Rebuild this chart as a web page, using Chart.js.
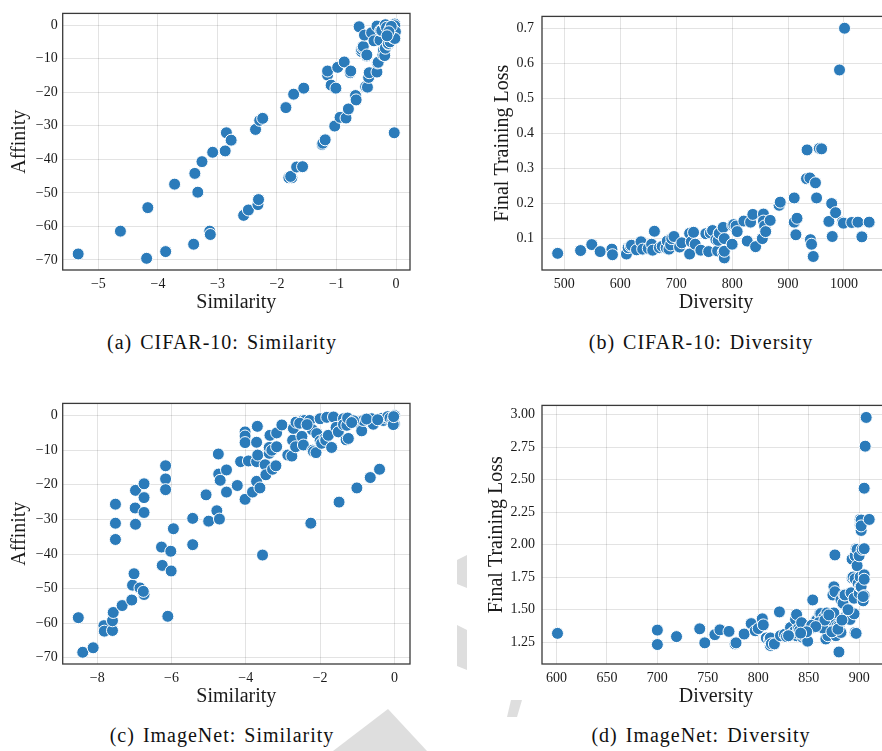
<!DOCTYPE html>
<html><head><meta charset="utf-8">
<script src="https://cdn.jsdelivr.net/npm/chart.js@4"></script>
<style>
html,body{margin:0;padding:0;background:#fff;overflow:hidden;width:882px;height:751px;position:relative}
canvas{position:absolute;z-index:1}
#wm{position:absolute;left:0;top:0;z-index:0}
.cap{position:absolute;z-index:2;font-family:'Liberation Serif','Times New Roman',Times,'DejaVu Serif',serif;font-size:20px;letter-spacing:1px;word-spacing:2px;color:#111;white-space:nowrap;transform:translateX(-50%);line-height:24px}
</style></head><body>
<svg id="wm" width="882" height="751" aria-hidden="true">
  <g fill="#dedede">
    <polygon points="457,560 467,555 467,588 457,584"/>
    <polygon points="457,625 467,630 467,670 457,666"/>
    <polygon points="333,751 388,709 427,751"/>
    <polygon points="511,700 522,700 517,717 507,717"/>
  </g>
</svg>
<canvas id="ca" width="420" height="320" style="left:0;top:0"></canvas>
<canvas id="cb" width="419" height="320" style="left:478px;top:0"></canvas>
<canvas id="cc" width="420" height="324" style="left:0;top:390px"></canvas>
<canvas id="cd" width="419" height="324" style="left:478px;top:390px"></canvas>
<div class="cap" style="left:222px;top:330px">(a) CIFAR-10: Similarity</div>
<div class="cap" style="left:701px;top:330px">(b) CIFAR-10: Diversity</div>
<div class="cap" style="left:222px;top:723px">(c) ImageNet: Similarity</div>
<div class="cap" style="left:701px;top:723px">(d) ImageNet: Diversity</div>
<script>
// ---- (a) CIFAR-10: Similarity vs Affinity
const simA = [-5.34,-4.63,-4.17,-4.19,-3.87,-3.72,-3.40,-3.38,-3.33,-3.26,-3.13,-3.12,-3.08,-2.87,-2.85,-2.77,-2.56,-2.48,-2.36,-2.32,-2.31,-2.29,-2.24,-1.85,-1.80,-1.75,-1.77,-1.72,-1.67,-1.57,-1.55,-1.24,-1.23,-1.19,-1.15,-1.15,-1.09,-1.03,-1.01,-0.98,-0.94,-0.87,-0.84,-0.80,-0.77,-0.76,-0.68,-0.67,-0.62,-0.58,-0.58,-0.56,-0.55,-0.53,-0.51,-0.49,-0.49,-0.48,-0.46,-0.45,-0.41,-0.37,-0.32,-0.32,-0.31,-0.30,-0.27,-0.26,-0.24,-0.22,-0.21,-0.19,-0.18,-0.18,-0.16,-0.13,-0.13,-0.10,-0.10,-0.07,-0.06,-0.05,-0.03,-0.02,-0.03,-0.02,-0.04,-0.01,-0.05,-0.08,-0.02,-0.12,-0.15];
const affA = [-68.2,-61.4,-54.4,-69.5,-67.5,-47.4,-65.3,-44.2,-49.8,-40.7,-61.4,-62.4,-37.9,-37.5,-32.1,-34.3,-56.7,-55.1,-31.1,-53.5,-52.0,-28.4,-27.8,-24.6,-45.5,-45.5,-45.1,-20.6,-42.3,-42.2,-18.8,-35.6,-35.2,-34.2,-14.9,-13.7,-17.9,-30.1,-18.8,-12.6,-27.5,-11.0,-27.7,-25.0,-14.2,-13.7,-21.0,-22.3,-0.5,-7.9,-7.2,-6.7,-6.4,-3.0,-18.4,-9.2,-8.9,-18.5,-15.6,-14.2,-2.3,-4.7,-0.3,-14.0,-11.3,-11.1,-4.5,-1.6,-1.6,-8.9,-7.4,-9.1,-6.9,0.1,-0.7,-5.7,-5.5,-5.0,-1.2,-2.6,-1.2,-2.6,-32.1,0.3,-3.1,-0.2,-1.5,-2.0,-3.8,-0.4,-4.0,-2.0,-3.2];
const ticksAx = [-5,-4,-3,-2,-1,0];
const ticksAy = [0,-10,-20,-30,-40,-50,-60,-70];

// ---- (b) CIFAR-10: Diversity vs Final Training Loss
const divB = [488,529,549,564,585,586,611,614,618,620,629,637,640,650,656,658,661,670,675,682,684,687,690,692,696,706,710,724,724,727,731,734,744,753,758,761,765,771,774,775,777,777,784,784,786,786,786,800,801,803,807,809,821,827,833,837,842,854,856,856,858,860,868,884,886,911,911,914,916,933,934,939,940,942,945,949,951,956,960,973,978,979,985,992,997,999,1001,1014,1025,1032,1045];
const lossB = [0.058,0.066,0.083,0.063,0.070,0.054,0.056,0.074,0.079,0.081,0.068,0.091,0.070,0.072,0.084,0.067,0.121,0.074,0.078,0.074,0.093,0.070,0.082,0.100,0.106,0.076,0.088,0.056,0.115,0.091,0.118,0.084,0.067,0.114,0.063,0.116,0.123,0.097,0.065,0.095,0.116,0.115,0.132,0.061,0.045,0.100,0.064,0.084,0.138,0.140,0.136,0.120,0.150,0.093,0.147,0.169,0.077,0.100,0.170,0.150,0.136,0.120,0.152,0.195,0.204,0.216,0.147,0.111,0.158,0.271,0.353,0.273,0.097,0.084,0.049,0.259,0.216,0.357,0.356,0.149,0.200,0.106,0.174,0.581,0.147,0.144,0.700,0.146,0.147,0.105,0.147];
const ticksBx = [500,600,700,800,900,1000];
const ticksBy = [0.1,0.2,0.3,0.4,0.5,0.6,0.7];

// ---- (c) ImageNet: Similarity vs Affinity
const simC = [-8.51,-8.39,-8.11,-7.82,-7.81,-7.59,-7.59,-7.57,-7.51,-7.51,-7.51,-7.33,-7.07,-7.05,-7.01,-6.98,-6.97,-6.97,-6.85,-6.74,-6.74,-6.74,-6.74,-6.76,-6.27,-6.25,-6.16,-6.16,-6.16,-6.10,-6.02,-6.01,-5.95,-5.43,-5.43,-5.07,-5.00,-4.78,-4.74,-4.73,-4.71,-4.69,-4.52,-4.52,-4.23,-4.14,-4.02,-4.02,-4.02,-4.02,-3.93,-3.82,-3.71,-3.71,-3.69,-3.68,-3.71,-3.62,-3.55,-3.48,-3.46,-3.37,-3.37,-3.35,-3.30,-3.28,-3.19,-3.17,-3.17,-3.03,-2.87,-2.76,-2.74,-2.72,-2.66,-2.65,-2.49,-2.45,-2.45,-2.41,-2.28,-2.25,-2.21,-2.20,-2.18,-2.11,-2.09,-2.00,-2.00,-1.96,-1.87,-1.85,-1.82,-1.78,-1.69,-1.64,-1.57,-1.51,-1.49,-1.37,-1.37,-1.30,-1.28,-1.26,-1.24,-1.01,-0.92,-0.88,-0.84,-0.65,-0.61,-0.57,-0.40,-0.34,-0.30,-0.21,-0.18,-0.12,0.00,0.00,-0.04,-0.03,-0.02,-1.10,-1.15,-0.75,-0.45,-2.55,-2.35];
const affC = [-58.4,-68.4,-67.1,-60.7,-62.3,-62.1,-59.3,-56.9,-25.6,-31.1,-35.8,-54.9,-53.3,-49.0,-45.7,-26.7,-21.6,-31.4,-49.8,-19.7,-23.7,-28.0,-51.7,-50.8,-38.0,-43.3,-14.5,-18.3,-21.4,-58.0,-39.2,-44.9,-32.7,-29.7,-37.3,-22.9,-30.5,-27.5,-11.1,-16.9,-29.9,-18.7,-15.7,-22.1,-20.2,-13.3,-4.7,-5.9,-7.8,-24.2,-13.1,-22.1,-13.3,-7.7,-3.1,-11.4,-19.0,-20.9,-40.3,-14.2,-17.1,-10.9,-9.2,-5.7,-10.0,-15.5,-14.5,-9.0,-5.0,-2.7,-11.4,-11.7,-7.1,-3.7,-9.0,-1.9,-6.0,-8.5,-1.3,-1.4,-1.4,-31.1,-4.1,-10.0,-10.4,-10.7,-5.2,-0.9,-7.3,-8.0,-6.6,-7.1,-0.5,-5.7,-9.2,-0.4,-3.4,-4.7,-25.0,-0.9,-2.6,-7.0,-2.8,-0.7,-6.6,-20.9,-2.4,-4.4,-1.4,-17.9,-0.9,-2.5,-15.5,-0.8,-1.4,-0.7,-0.3,-0.7,0.0,-2.4,-1.4,-2.6,-0.3,-1.5,-2.0,-1.0,-1.2,-2.2,-2.6];
const ticksCx = [-8,-6,-4,-2,0];
const ticksCy = [0,-10,-20,-30,-40,-50,-60,-70];

// ---- (d) ImageNet: Diversity vs Final Training Loss
const divD = [601,700,700,719,742,747,757,762,771,777,778,786,793,797,800,804,805,808,811,812,812,813,816,821,822,826,828,832,834,836,837,838,838,839,840,841,843,844,845,846,849,852,854,855,857,858,861,862,863,865,867,868,869,869,871,872,874,875,876,875,876,877,878,878,880,880,882,882,884,885,886,887,888,890,891,892,893,893,894,895,895,896,896,896,897,897,898,898,899,900,900,901,901,901,901,902,902,902,902,903,904,905,905,905,905,905,904,906,907,910,860,864,866,870,873,879,883,889,853,857,848,830,842];
const lossD = [1.318,1.343,1.232,1.293,1.353,1.245,1.308,1.345,1.333,1.237,1.245,1.313,1.393,1.338,1.355,1.430,1.383,1.283,1.276,1.283,1.225,1.238,1.237,1.483,1.300,1.310,1.293,1.363,1.320,1.333,1.425,1.463,1.300,1.320,1.358,1.340,1.400,1.288,1.300,1.313,1.258,1.368,1.575,1.363,1.413,1.420,1.468,1.470,1.388,1.440,1.275,1.475,1.388,1.300,1.388,1.420,1.613,1.676,1.921,1.475,1.638,1.300,1.338,1.375,1.175,1.375,1.325,1.576,1.550,1.614,1.613,1.451,1.438,1.488,1.425,1.630,1.744,1.889,1.751,1.468,1.588,1.914,1.325,1.738,1.969,1.318,1.838,1.964,1.701,1.626,1.914,1.751,1.676,2.151,2.194,2.189,2.109,2.144,1.676,1.964,1.568,1.608,1.969,2.434,1.768,1.734,1.601,2.757,2.978,2.194,1.40,1.36,1.42,1.46,1.33,1.35,1.42,1.50,1.38,1.37,1.33,1.30,1.32];
const ticksDx = [600,650,700,750,800,850,900];
const ticksDy = [1.25,1.5,1.75,2.0,2.25,2.5,2.75,3.0];

const FONT = "'Liberation Serif', 'Times New Roman', Times, 'DejaVu Serif', serif";
const TXT = '#1a1a1a';
const GRID = 'rgba(0,0,0,0.11)';
const DOT = '#2b7bba';

function fmt(v, d) {
  const s = Math.abs(v).toFixed(d);
  return (v < 0 ? '\u2212' : '') + s;
}

const frame = {
  id: 'frame',
  beforeDraw(c) {
    const a = c.chartArea, g = c.ctx;
    g.save();
    g.fillStyle = '#ffffff';
    g.fillRect(a.left, a.top, a.right - a.left, a.bottom - a.top);
    g.restore();
  },
  afterDatasetsDraw(c) {
    const a = c.chartArea, g = c.ctx;
    g.save();
    g.strokeStyle = '#3a3a3a';
    g.lineWidth = 1.3;
    g.strokeRect(a.left, a.top, a.right - a.left, a.bottom - a.top);
    g.restore();
  }
};

function panel(id, xs, ys, o) {
  return new Chart(document.getElementById(id), {
    type: 'scatter',
    data: { datasets: [{
      data: xs.map((x, i) => ({ x: x, y: ys[i] })),
      backgroundColor: DOT, borderColor: '#ffffff', borderWidth: 1,
      pointRadius: 6, pointHoverRadius: 6
    }]},
    options: {
      responsive: false, animation: false, devicePixelRatio: 1, events: [],
      layout: { padding: { top: o.padTop, right: o.padRight, left: 0, bottom: 0 } },
      plugins: { legend: { display: false }, tooltip: { enabled: false } },
      scales: {
        x: {
          type: 'linear', position: 'bottom', min: o.xmin, max: o.xmax,
          afterBuildTicks: s => { s.ticks = o.xt.map(v => ({ value: v })); },
          afterFit: s => { s.height = 50; },
          grid: { color: GRID, lineWidth: 1, drawTicks: false },
          border: { display: false },
          ticks: { padding: o.xtp, color: TXT, font: { family: FONT, size: 14 }, maxRotation: 0, autoSkip: false,
                   callback: v => fmt(v, o.xd) },
          title: { display: true, text: o.xtitle, color: TXT, font: { family: FONT, size: 20 },
                   padding: { top: 0, bottom: o.xtb } }
        },
        y: {
          type: 'linear', position: 'left', min: o.ymin, max: o.ymax,
          afterBuildTicks: s => { s.ticks = o.yt.map(v => ({ value: v })); },
          afterFit: s => { s.width = o.yw; },
          grid: { color: GRID, lineWidth: 1, drawTicks: false },
          border: { display: false },
          ticks: { padding: o.ytp, color: TXT, font: { family: FONT, size: 14 }, autoSkip: false,
                   callback: v => fmt(v, o.yd) },
          title: { display: true, text: o.ytitle, color: TXT, font: { family: FONT, size: 20 },
                   padding: { top: o.ytt, bottom: 0 } }
        }
      }
    },
    plugins: [frame]
  });
}

panel('ca', simA, affA, { padTop: 5.7, padRight: 10, xmin: -5.6, xmax: 0.235, ymin: -72.98, ymax: 3.47,
  xt: ticksAx, yt: ticksAy, xd: 0, yd: 0, xtp: 6, ytp: 5, yw: 62.7, xtitle: 'Similarity', ytitle: 'Affinity', xtb: 5.5, ytt: 7.5 });
panel('cb', divB, lossB, { padTop: 5.7, padRight: 2, xmin: 460.0, xmax: 1082.3, ymin: 0.0105, ymax: 0.7337,
  xt: ticksBx, yt: ticksBy, xd: 0, yd: 1, xtp: 6, ytp: 8, yw: 64, xtitle: 'Diversity', ytitle: 'Final Training Loss', xtb: 5.5, ytt: 13 });
panel('cc', simC, affC, { padTop: 9.3, padRight: 10, xmin: -8.93, xmax: 0.42, ymin: -71.79, ymax: 3.53,
  xt: ticksCx, yt: ticksCy, xd: 0, yd: 0, xtp: 6, ytp: 5, yw: 62.7, xtitle: 'Similarity', ytitle: 'Affinity', xtb: 5.5, ytt: 7.5 });
panel('cd', divD, lossD, { padTop: 9.3, padRight: 2, xmin: 585.65, xmax: 930.6, ymin: 1.0825, ymax: 3.0706,
  xt: ticksDx, yt: ticksDy, xd: 0, yd: 2, xtp: 6, ytp: 7, yw: 64, xtitle: 'Diversity', ytitle: 'Final Training Loss', xtb: 5.5, ytt: 7 });
</script>
</body></html>
